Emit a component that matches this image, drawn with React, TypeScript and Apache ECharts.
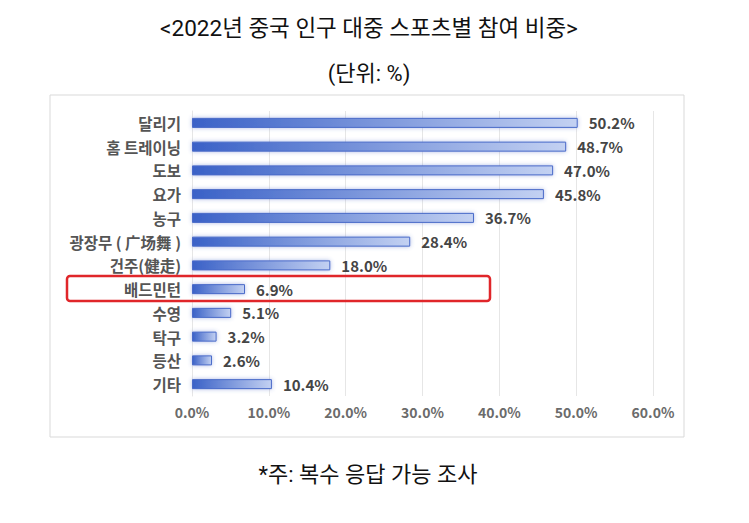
import React, { useEffect, useRef } from "react";
import * as echarts from "echarts";

const categories = ["달리기", "홈 트레이닝", "도보", "요가", "농구", "광장무 ( 广场舞 )", "건주(健走)", "배드민턴", "수영", "탁구", "등산", "기타"];
const values = [50.2, 48.7, 47.0, 45.8, 36.7, 28.4, 18.0, 6.9, 5.1, 3.2, 2.6, 10.4];
const titleText = "<2022년 중국 인구 대중 스포츠별 참여 비중>";
const unitText = "(단위: %)";
const noteText = "*주: 복수 응답 가능 조사";

const FONT = "'Noto Sans CJK KR', 'Noto Sans', sans-serif";
const TITLE_FONT = "Roboto, 'Noto Sans CJK KR', sans-serif";

export default function App() {
  const ref = useRef<HTMLDivElement>(null);
  useEffect(() => {
    if (!ref.current) return;
    const chart = echarts.init(ref.current, null, { renderer: "svg" });
    chart.setOption({
      animation: false,
      backgroundColor: "#ffffff",
      grid: { left: 192, right: 96, top: 111, bottom: 127 },
      xAxis: {
        type: "value",
        min: 0,
        max: 60,
        interval: 10,
        axisLine: { show: false },
        axisTick: { show: false },
        splitLine: { lineStyle: { color: "#e6e6e6", width: 1 } },
        axisLabel: {
          formatter: (v: number) => v.toFixed(1) + "%",
          color: "#6b6b6b",
          fontFamily: FONT,
          fontWeight: "bold",
          fontSize: 14,
          margin: 9,
        },
      },
      yAxis: {
        type: "category",
        data: categories,
        inverse: true,
        axisLine: { show: true, lineStyle: { color: "#e6e6e6" } },
        axisTick: { show: false },
        axisLabel: {
          color: "#555555",
          fontFamily: FONT,
          fontWeight: "bold",
          fontSize: 15.5,
          margin: 11,
        },
      },
      series: [
        {
          type: "bar",
          data: values,
          barWidth: 10,
          itemStyle: {
            color: new echarts.graphic.LinearGradient(0, 0, 1, 0, [
              { offset: 0, color: "#3a61c7" },
              { offset: 1, color: "#c3d1f2" },
            ]),
            borderColor: "#4a6bc9",
            borderWidth: 1,
            shadowBlur: 4,
            shadowColor: "rgba(70,100,200,0.45)",
          },
          label: {
            show: true,
            position: "right",
            distance: 11,
            formatter: (p: any) => p.value.toFixed(1) + "%",
            color: "#454545",
            fontFamily: FONT,
            fontWeight: "bold",
            fontSize: 15,
          },
        },
      ],
      graphic: [
        {
          type: "rect",
          shape: { x: 50, y: 95, width: 634, height: 342 },
          style: { fill: "none", stroke: "#d9d9d9", lineWidth: 1 },
          z: -1,
        },
        {
          type: "rect",
          shape: { x: 67, y: 276, width: 423, height: 25, r: 3 },
          style: { fill: "none", stroke: "#e0262a", lineWidth: 2.5 },
          z: 10,
        },
        {
          type: "text",
          x: 369,
          y: 28,
          style: { text: titleText, fontFamily: TITLE_FONT, fontSize: 22.5, fill: "#111", align: "center", verticalAlign: "middle" },
        },
        {
          type: "text",
          x: 369,
          y: 73,
          style: { text: unitText, fontFamily: TITLE_FONT, fontSize: 22, fill: "#111", align: "center", verticalAlign: "middle" },
        },
        {
          type: "text",
          x: 368,
          y: 474,
          style: { text: noteText, fontFamily: TITLE_FONT, fontSize: 22, fill: "#111", align: "center", verticalAlign: "middle" },
        },
      ],
    });
    return () => chart.dispose();
  }, []);
  return <div ref={ref} style={{ position: "fixed", left: 0, top: 0, width: 749, height: 523 }} />;
}
